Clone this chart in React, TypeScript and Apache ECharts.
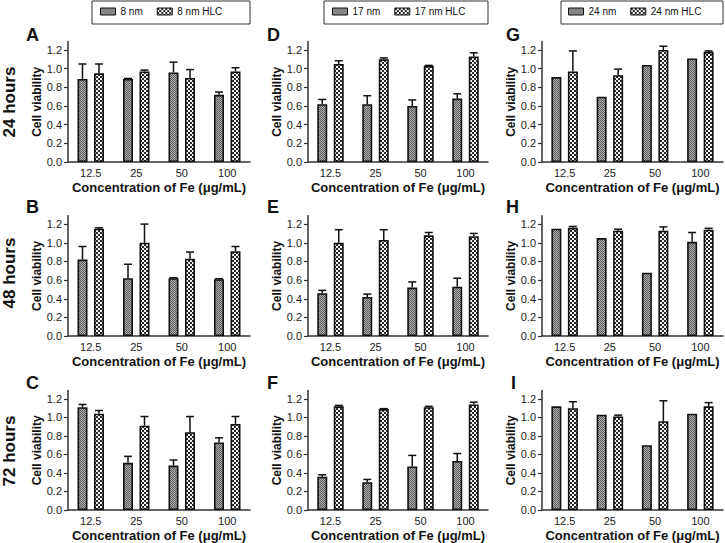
import React, { useEffect, useRef } from 'react';
import * as echarts from 'echarts';

// ---------- data ----------
const categories = ['12.5', '25', '50', '100'];
const yTicks = [0, 0.2, 0.4, 0.6, 0.8, 1.0, 1.2];
const rowLabels = ['24 hours', '48 hours', '72 hours'];
const panelLetters = [['A', 'B', 'C'], ['D', 'E', 'F'], ['G', 'H', 'I']];
const sizeNames = ['8 nm', '17 nm', '24 nm'];
const xTitle = 'Concentration of Fe (\u03bcg/mL)';
const yTitle = 'Cell viability';

// 8 nm (column 1)
const A_np = [0.89, 0.89, 0.96, 0.72];
const A_npErr = [0.16, 0.005, 0.11, 0.03];
const A_hlc = [0.95, 0.97, 0.90, 0.97];
const A_hlcErr = [0.10, 0.015, 0.09, 0.04];
const B_np = [0.82, 0.62, 0.62, 0.61];
const B_npErr = [0.14, 0.15, 0.005, 0.005];
const B_hlc = [1.15, 1.00, 0.83, 0.91];
const B_hlcErr = [0.01, 0.20, 0.07, 0.05];
const C_np = [1.11, 0.51, 0.48, 0.73];
const C_npErr = [0.03, 0.07, 0.06, 0.05];
const C_hlc = [1.04, 0.91, 0.84, 0.93];
const C_hlcErr = [0.035, 0.10, 0.17, 0.08];
// 17 nm (column 2)
const D_np = [0.62, 0.62, 0.60, 0.68];
const D_npErr = [0.05, 0.09, 0.065, 0.05];
const D_hlc = [1.05, 1.10, 1.03, 1.13];
const D_hlcErr = [0.035, 0.015, 0.005, 0.04];
const E_np = [0.46, 0.42, 0.52, 0.53];
const E_npErr = [0.03, 0.03, 0.06, 0.09];
const E_hlc = [1.00, 1.03, 1.08, 1.07];
const E_hlcErr = [0.14, 0.11, 0.03, 0.03];
const F_np = [0.36, 0.30, 0.47, 0.53];
const F_npErr = [0.02, 0.03, 0.12, 0.08];
const F_hlc = [1.12, 1.09, 1.11, 1.14];
const F_hlcErr = [0.01, 0.005, 0.01, 0.025];
// 24 nm (column 3)
const G_np = [0.91, 0.70, 1.04, 1.11];
const G_npErr = [0, 0, 0, 0];
const G_hlc = [0.97, 0.93, 1.20, 1.18];
const G_hlcErr = [0.22, 0.065, 0.04, 0.01];
const H_np = [1.15, 1.05, 0.68, 1.01];
const H_npErr = [0, 0, 0, 0.10];
const H_hlc = [1.16, 1.13, 1.13, 1.14];
const H_hlcErr = [0.015, 0.015, 0.04, 0.015];
const I_np = [1.12, 1.03, 0.70, 1.04];
const I_npErr = [0, 0, 0, 0];
const I_hlc = [1.10, 1.01, 0.96, 1.12];
const I_hlcErr = [0.07, 0.015, 0.22, 0.04];

const panels = [
  [
    [A_np, A_npErr, A_hlc, A_hlcErr],
    [B_np, B_npErr, B_hlc, B_hlcErr],
    [C_np, C_npErr, C_hlc, C_hlcErr],
  ],
  [
    [D_np, D_npErr, D_hlc, D_hlcErr],
    [E_np, E_npErr, E_hlc, E_hlcErr],
    [F_np, F_npErr, F_hlc, F_hlcErr],
  ],
  [
    [G_np, G_npErr, G_hlc, G_hlcErr],
    [H_np, H_npErr, H_hlc, H_hlcErr],
    [I_np, I_npErr, I_hlc, I_hlcErr],
  ],
];

// ---------- layout ----------
const FONT = "'Liberation Sans', Arial, Helvetica, sans-serif";
const colLeft = [68, 308, 542];
const colWidth = [182, 180, 181];
const rowTop = [41.6, 215.7, 390.6];
const gridHeight = 120.4;
const BAR_W = 10;
const BAR_GAP = 0.65;
const legendBox = [
  { x: 92, w: 158, itemLeft: 100 },
  { x: 324, w: 164, itemLeft: 332 },
  { x: 561, w: 162, itemLeft: 568 },
];
const letterPos = [
  [26, 26, 26],
  [267, 267, 267],
  [506, 506, 511],
];
const letterY = [35, 207, 383];
const hoursY = [102, 273, 451];

function makePattern(kind: 'np' | 'hlc'): HTMLCanvasElement {
  const c = document.createElement('canvas');
  if (kind === 'np') {
    c.width = 2;
    c.height = 2;
    const ctx = c.getContext('2d')!;
    ctx.fillStyle = '#b0b0b0';
    ctx.fillRect(0, 0, 2, 2);
    ctx.fillStyle = '#5a5a5a';
    ctx.fillRect(0, 0, 1, 1);
    ctx.fillRect(1, 1, 1, 1);
  } else {
    c.width = 4;
    c.height = 4;
    const ctx = c.getContext('2d')!;
    ctx.fillStyle = '#f4f4f4';
    ctx.fillRect(0, 0, 4, 4);
    ctx.fillStyle = '#2a2a2a';
    ctx.fillRect(0, 0, 2, 2);
    ctx.fillRect(2, 2, 2, 2);
  }
  return c;
}

export default function App() {
  const ref = useRef<HTMLDivElement>(null);

  useEffect(() => {
    document.body.style.margin = '0';
    if (!ref.current) return;
    const chart = echarts.init(ref.current, undefined, { renderer: 'svg' });

    const patNp = { image: makePattern('np'), repeat: 'repeat' };
    const patHlc = { image: makePattern('hlc'), repeat: 'repeat' };
    const half = (BAR_W * 2 + BAR_W * BAR_GAP) / 2 - BAR_W / 2;

    const grids: any[] = [];
    const xAxes: any[] = [];
    const yAxes: any[] = [];
    const series: any[] = [];
    const graphics: any[] = [];
    const legends: any[] = [];

    const errSeries = (idx: number, vals: number[], errs: number[], offset: number) => ({
      type: 'custom',
      xAxisIndex: idx,
      yAxisIndex: idx,
      silent: true,
      z: 5,
      data: vals.map((v, i) => [i, v, errs[i]]),
      encode: { x: 0, y: 1 },
      renderItem: (params: any, api: any) => {
        const e = api.value(2);
        if (!e) return null;
        const v = api.value(1);
        const base = api.coord([api.value(0), v]);
        const top = api.coord([api.value(0), v + e]);
        const x = base[0] + offset;
        const st = { stroke: '#111', lineWidth: 1.5 };
        return {
          type: 'group',
          children: [
            { type: 'line', shape: { x1: x, y1: base[1], x2: x, y2: top[1] }, style: st },
            { type: 'line', shape: { x1: x - 4, y1: top[1], x2: x + 4, y2: top[1] }, style: st },
          ],
        };
      },
    });

    const maxTick = yTicks[yTicks.length - 1];

    for (let c = 0; c < 3; c++) {
      for (let r = 0; r < 3; r++) {
        const idx = c * 3 + r;
        const [np, npErr, hlc, hlcErr] = panels[c][r];
        grids.push({ left: colLeft[c], top: rowTop[r], width: colWidth[c], height: gridHeight });
        xAxes.push({
          gridIndex: idx,
          type: 'category',
          data: categories,
          axisLine: { lineStyle: { color: '#333', width: 1.5 } },
          axisTick: { alignWithLabel: true, length: 3, lineStyle: { color: '#333', width: 1.2 } },
          axisLabel: { color: '#222', fontSize: 11, margin: 5, fontFamily: FONT },
          name: xTitle,
          nameLocation: 'middle',
          nameGap: 19,
          nameTextStyle: { fontWeight: 'bold', fontSize: 13, color: '#111', fontFamily: FONT },
        });
        yAxes.push({
          gridIndex: idx,
          type: 'value',
          min: 0,
          max: 1.29,
          interval: 0.2,
          axisLine: { show: true, lineStyle: { color: '#333', width: 1.5 } },
          axisTick: { show: true, length: 4, customValues: yTicks, lineStyle: { color: '#333', width: 1.2 } },
          axisLabel: {
            formatter: (v: number) => (v > maxTick + 0.001 ? '' : Number(v).toFixed(1)),
            showMaxLabel: false,
            color: '#222',
            fontSize: 11,
            margin: 6,
            fontFamily: FONT,
          },
          splitLine: { show: false },
          name: yTitle,
          nameLocation: 'middle',
          nameGap: 25,
          nameTextStyle: { fontWeight: 'bold', fontSize: 12, color: '#111', fontFamily: FONT },
        });
        series.push({
          type: 'bar',
          name: sizeNames[c],
          xAxisIndex: idx,
          yAxisIndex: idx,
          data: np,
          barWidth: BAR_W,
          barGap: BAR_GAP * 100 + '%',
          itemStyle: { color: patNp, borderColor: '#111', borderWidth: 1.6 },
        });
        series.push({
          type: 'bar',
          name: sizeNames[c] + ' HLC',
          xAxisIndex: idx,
          yAxisIndex: idx,
          data: hlc,
          barWidth: BAR_W,
          barGap: BAR_GAP * 100 + '%',
          itemStyle: { color: patHlc, borderColor: '#111', borderWidth: 1.6 },
        });
        series.push(errSeries(idx, np, npErr, -half));
        series.push(errSeries(idx, hlc, hlcErr, half));

        graphics.push({
          type: 'text',
          x: letterPos[c][r],
          y: letterY[r],
          style: {
            text: panelLetters[c][r],
            font: `bold 18px ${FONT}`,
            fill: '#111',
            textAlign: 'left',
            textVerticalAlign: 'middle',
          },
        });
      }
      legends.push({
        data: [sizeNames[c], sizeNames[c] + ' HLC'],
        left: legendBox[c].itemLeft,
        top: 6.5,
        padding: 0,
        itemWidth: 15,
        itemHeight: 7,
        itemGap: 14,
        icon: 'rect',
        itemStyle: { borderColor: '#111', borderWidth: 1 },
        textStyle: { fontSize: 10, color: '#111', fontFamily: FONT },
        selectedMode: false,
      });
      graphics.push({
        type: 'rect',
        shape: { x: legendBox[c].x, y: 1, width: legendBox[c].w, height: 23 },
        style: { fill: 'none', stroke: '#333', lineWidth: 1 },
      });
    }

    for (let r = 0; r < 3; r++) {
      graphics.push({
        type: 'text',
        x: 9,
        y: hoursY[r],
        rotation: Math.PI / 2,
        style: {
          text: rowLabels[r],
          font: `bold 17px ${FONT}`,
          fill: '#111',
          textAlign: 'center',
          textVerticalAlign: 'middle',
        },
      });
    }

    chart.setOption({
      animation: false,
      backgroundColor: '#ffffff',
      grid: grids,
      xAxis: xAxes,
      yAxis: yAxes,
      legend: legends,
      series,
      graphic: graphics,
    });

    return () => chart.dispose();
  }, []);

  return <div ref={ref} style={{ width: 725, height: 543 }} />;
}
